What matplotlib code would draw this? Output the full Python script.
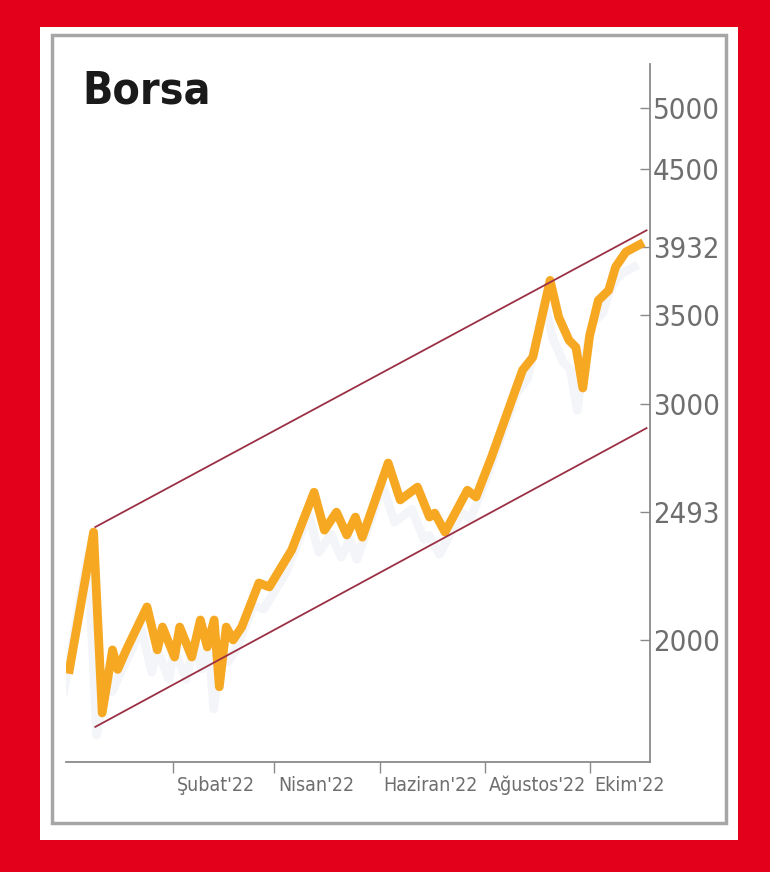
import numpy as np
import matplotlib
matplotlib.use("Agg")
import matplotlib.pyplot as plt
import matplotlib.patheffects as pe
from matplotlib.patches import Rectangle
from matplotlib.transforms import ScaledTranslation

# Borsa (BIST100) kapanis degerleri
dates = ['2021-12-03', '2021-12-17', '2021-12-22', '2021-12-28', '2021-12-31',
         '2022-01-05', '2022-01-17', '2022-01-23', '2022-01-26', '2022-02-02',
         '2022-02-05', '2022-02-12', '2022-02-17', '2022-02-21', '2022-02-25',
         '2022-02-28', '2022-03-04', '2022-03-08', '2022-03-13', '2022-03-23',
         '2022-03-29', '2022-04-11', '2022-04-24', '2022-04-30', '2022-05-07',
         '2022-05-13', '2022-05-18', '2022-05-22', '2022-06-06', '2022-06-13',
         '2022-06-23', '2022-06-30', '2022-07-03', '2022-07-09', '2022-07-22',
         '2022-07-27', '2022-08-05', '2022-08-23', '2022-08-29', '2022-09-08',
         '2022-09-13', '2022-09-19', '2022-09-23', '2022-09-27', '2022-10-01',
         '2022-10-06', '2022-10-12', '2022-10-16', '2022-10-22', '2022-10-30']
values = [1901, 2408, 1764, 1966, 1901,
          1966, 2117, 1966, 2045, 1942,
          2045, 1942, 2070, 1976, 2070,
          1845, 2045, 2000, 2045, 2206,
          2191, 2335, 2579, 2416, 2492,
          2396, 2471, 2387, 2712, 2545,
          2602, 2471, 2488, 2408, 2588,
          2558, 2740, 3182, 3254, 3714,
          3486, 3350, 3310, 3086, 3379,
          3588, 3651, 3800, 3900, 3950]

# trend kanali
channel_dates = ['2021-12-18', '2022-11-03']
upper_vals = [2429, 4048]
lower_vals = [1722, 2880]

ytick_vals = [2000, 2493, 3000, 3500, 3932, 4500, 5000]
xtick_dates = ['2022-02-01', '2022-04-01', '2022-06-01', '2022-08-01', '2022-10-01']
xtick_labels = ["Şubat'22", "Nisan'22", "Haziran'22", "Ağustos'22", "Ekim'22"]

narrow = ['Liberation Sans Narrow', 'DejaVu Sans']

fig = plt.figure(figsize=(7.7, 8.72), dpi=100, facecolor='#e2001a')

# beyaz panel ve gri cerceve (eksenlerin arkasinda)
fig.patches.append(Rectangle((40/770, 32/872), 698/770, 813/872,
                             transform=fig.transFigure, facecolor='white',
                             edgecolor='none', zorder=-3))
fig.patches.append(Rectangle((52/770, 49/872), 674/770, 788/872,
                             transform=fig.transFigure, facecolor='white',
                             edgecolor='#a6a6a6', linewidth=2.5, zorder=-2))

ax = fig.add_axes([66/770, 110/872, 584/770, 698/872])
ax.set_facecolor('none')

x = np.array(dates, dtype='datetime64[D]')
cx = np.array(channel_dates, dtype='datetime64[D]')

ax.plot(x, values, color='#f7a823', lw=6.3, solid_joinstyle='round', zorder=2,
        path_effects=[pe.SimpleLineShadow(offset=(-4, -16), shadow_color='#9fb2cc', alpha=0.12),
                      pe.Normal()])
ax.plot(cx, upper_vals, color='#9b3045', lw=1.3, zorder=3)
ax.plot(cx, lower_vals, color='#9b3045', lw=1.3, zorder=3)

ax.set_yscale('log')
ax.set_ylim(1621, 5390)
ax.set_xlim(np.datetime64('2021-12-01'), np.datetime64('2022-11-05'))

ax.yaxis.tick_right()
ax.set_yticks(ytick_vals)
ax.set_yticklabels([str(v) for v in ytick_vals])
ax.yaxis.set_minor_locator(matplotlib.ticker.NullLocator())
ax.tick_params(axis='y', direction='in', length=7, width=1, color='#8a8a8a',
               pad=2, labelsize=21, labelcolor='#6e6e6e')

ax.set_xticks(np.array(xtick_dates, dtype='datetime64[D]'))
ax.set_xticklabels(xtick_labels)
ax.tick_params(axis='x', direction='out', length=8, width=1, color='#8a8a8a',
               pad=2, labelsize=14, labelcolor='#6e6e6e')
offset = ScaledTranslation(3/72, 0, fig.dpi_scale_trans)
for lab in ax.get_xticklabels():
    lab.set_ha('left')
    lab.set_family(narrow)
    lab.set_stretch('condensed')
    lab.set_transform(lab.get_transform() + offset)
for lab in ax.get_yticklabels():
    lab.set_family(narrow)
    lab.set_stretch('condensed')

for s in ['left', 'top']:
    ax.spines[s].set_visible(False)
for s in ['right', 'bottom']:
    ax.spines[s].set_color('#8a8a8a')
    ax.spines[s].set_linewidth(1.3)

fig.text(82/770, 1 - 103/872, 'Borsa', fontsize=32, fontweight='bold',
         fontstretch='condensed', color='#1a1a1a', family=narrow,
         va='baseline', ha='left')

fig.savefig('out.png', dpi=100, facecolor=fig.get_facecolor())
